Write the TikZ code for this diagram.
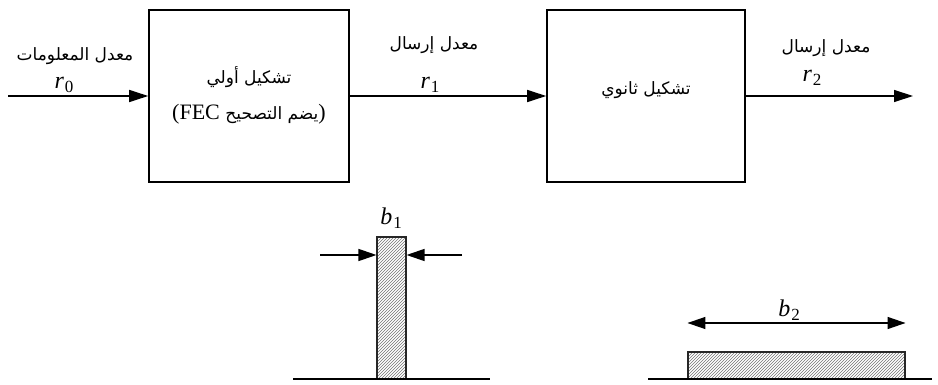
\documentclass[tikz,border=0pt]{standalone}
\usepackage{fontspec}
\setmainfont{Liberation Serif}
\newfontfamily\arabicfont[Script=Arabic]{DejaVu Sans}
\TeXXeTstate=1
\usetikzlibrary{arrows.meta,positioning,patterns}
\newcommand{\ratesym}[2]{\textit{#1}\kern1pt\raisebox{-4pt}{\fontsize{17}{19}\selectfont #2}}
\tikzset{
  modbox/.style={rectangle, draw=black, line width=1.6pt, fill=white,
                 align=center, inner sep=0pt},
  bar/.style={rectangle, draw=black!85, line width=1.1pt,
              pattern=north east lines, pattern color=black!55, inner sep=0pt},
  ar/.style={-{Triangle[length=19pt,width=12pt]}, line width=1.3pt},
  dimar/.style={-{Triangle[length=18pt,width=12pt]}, line width=1.3pt},
  ground/.style={draw=black, line width=2.6pt},
  arlbl/.style={font=\arabicfont\fontsize{17}{19}\selectfont, inner sep=1pt},
  sym/.style={font=\fontsize{24}{26}\selectfont, inner sep=0pt},
}

\begin{document}
\begin{tikzpicture}[x=1pt,y=-1pt]
\useasboundingbox (0,0) rectangle (938,385);

% ===================== the two modulation stages =====================
\node[modbox, minimum width=200, minimum height=172] (mod1) at (249,96) {};
\node[modbox, minimum width=198, minimum height=172] (mod2) at (646,96) {};

\node[arlbl] (mod1a) at (249,77) {\beginR تشكيل أولي\endR};
\node[inner sep=1pt, font=\fontsize{22}{24}\selectfont] (mod1b) at (249,114)
  {(FEC {\arabicfont\fontsize{17}{19}\selectfont\beginR يضم التصحيح\endR})};
\node[arlbl] (mod2a) at (646,90) {\beginR تشكيل ثانوي\endR};

% ===================== rates along the chain =====================
\coordinate (in) at (8,96);
\coordinate (out) at (913,96);
\draw[ar] (in) -- (mod1.west);
\draw[ar] (mod1.east) -- (mod2.west);
\draw[ar] (mod2.east) -- (out);

\node[arlbl] (r0t) at (75,56) {\beginR معدل المعلومات\endR};
\node[sym] (r0) at (64,85) {\ratesym{r}{0}};
\node[arlbl] (r1t) at (434,45) {\beginR معدل إرسال\endR};
\node[sym] (r1) at (430,85) {\ratesym{r}{1}};
\node[arlbl] (r2t) at (826,48) {\beginR معدل إرسال\endR};
\node[sym] (r2) at (812,78) {\ratesym{r}{2}};

% ===================== spectra: narrow b1, wide b2 =====================
\coordinate (g1a) at (293,379);
\coordinate (g1b) at (490,379);
\coordinate (g2a) at (648,379);
\coordinate (g2b) at (932,379);

\node[bar, minimum width=29, minimum height=142] (bar1) at (391.5,308) {};
\node[bar, minimum width=217, minimum height=27] (bar2) at (796.5,365.5) {};
\draw[ground] (g1a) -- (g1b);
\draw[ground] (g2a) -- (g2b);

\coordinate (p1l) at (320,255);
\coordinate (p1r) at (462,255);
\draw[dimar] (p1l) -- (p1l -| bar1.west);
\draw[dimar] (p1r) -- (p1r -| bar1.east);
\node[sym] (b1) at (391,218) {\ratesym{b}{1}};

\coordinate (p2) at (796.5,323);
\draw[dimar, {Triangle[length=18pt,width=12pt]}-{Triangle[length=18pt,width=12pt]}]
  (p2 -| bar2.west) -- (p2 -| bar2.east);
\node[sym] (b2) at (789,310) {\ratesym{b}{2}};

\end{tikzpicture}
\end{document}
